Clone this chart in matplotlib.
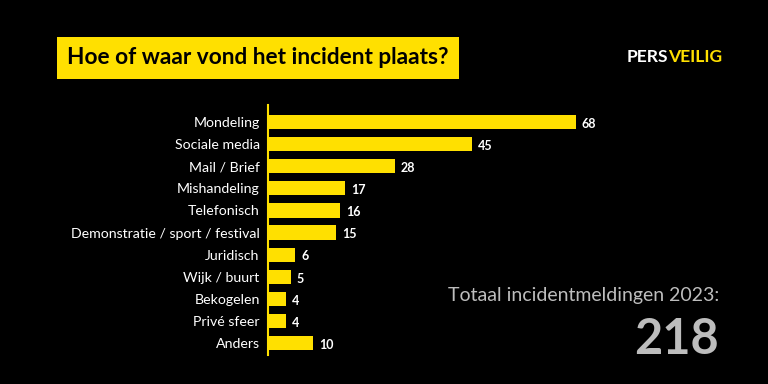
import matplotlib.pyplot as plt

categorieen = ['Mondeling', 'Sociale media', 'Mail / Brief', 'Mishandeling',
               'Telefonisch', 'Demonstratie / sport / festival', 'Juridisch',
               'Wijk / buurt', 'Bekogelen', 'Privé sfeer', 'Anders']
aantallen = [68, 45, 28, 17, 16, 15, 6, 5, 4, 4, 10]
totaal = 218

geel = '#FFE000'
grijs = '#BDBDBD'

plt.rcParams['font.family'] = ['Lato', 'DejaVu Sans']

fig = plt.figure(figsize=(7.68, 3.84), dpi=100)
fig.patch.set_facecolor('black')

ax = fig.add_axes([268/768, 29/384, 344/768, 250/384])
ax.set_facecolor('black')

y = list(range(len(categorieen)))
ax.barh(y, aantallen, height=0.64, color=geel)
for yi, v in zip(y, aantallen):
    ax.text(v + 1.3, yi + 0.08, str(v), color='white', fontsize=9,
            fontweight='bold', va='center', ha='left')

ax.set_xlim(0, 76)
ax.set_ylim(10.54, -0.77)
ax.set_yticks(y)
ax.set_yticklabels(categorieen, color='white', fontsize=10.2)
ax.tick_params(axis='y', length=0, pad=6)
ax.set_xticks([])
for s in ['top', 'right', 'bottom']:
    ax.spines[s].set_visible(False)
ax.spines['left'].set_color(geel)
ax.spines['left'].set_linewidth(1.5)

# titel in geel kader
fig.text(67/768, 1 - 58/384, 'Hoe of waar vond het incident plaats?',
         fontsize=16.3, fontweight='bold', color='black', va='center', ha='left',
         bbox=dict(boxstyle='square,pad=0.45', facecolor=geel, edgecolor='none'))

# logo: PERS wit, VEILIG geel er direct achter
pers = fig.text(627/768, 1 - 57/384, 'PERS', fontsize=12.6, fontweight='bold',
                color='white', va='center', ha='left')
ax.annotate('VEILIG', xy=(1, 0), xycoords=pers, fontsize=12.6,
            fontweight='bold', color=geel, va='bottom', ha='left',
            annotation_clip=False)

# totaal
fig.text(719/768, 1 - 296/384, 'Totaal incidentmeldingen 2023:', fontsize=14,
         color=grijs, va='center', ha='right')
fig.text(719/768, 1 - 339/384, str(totaal), fontsize=35, fontweight='bold',
         color=grijs, va='center', ha='right')

fig.savefig('out.png', dpi=100, facecolor='black')
